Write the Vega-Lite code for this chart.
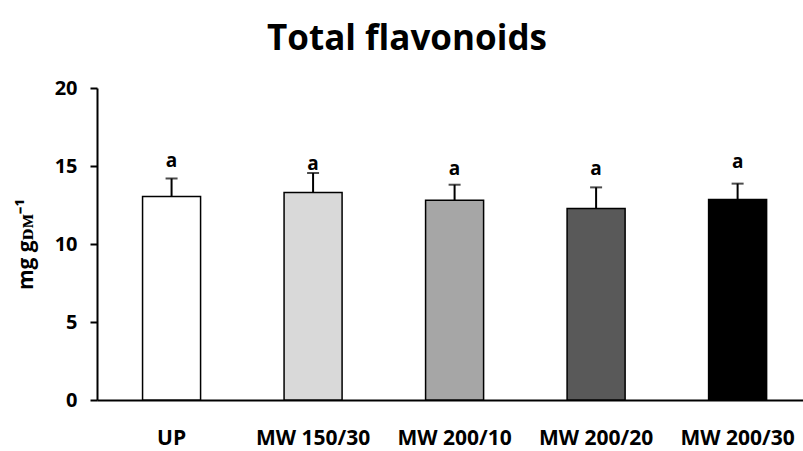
{
  "$schema": "https://vega.github.io/schema/vega-lite/v6.json",
  "width": 706,
  "height": 312,
  "autosize": {"type": "none"},
  "padding": {"left": 97, "top": 88, "right": 0, "bottom": 51},
  "background": "white",
  "title": {
    "text": "Total flavonoids",
    "font": "Open Sans",
    "fontSize": 35,
    "fontWeight": "bold",
    "color": "black",
    "anchor": "middle",
    "frame": "group",
    "dx": -43,
    "baseline": "alphabetic",
    "offset": -7
  },
  "config": {
    "view": {"stroke": null},
    "font": "Open Sans"
  },
  "data": {
    "values": [
      {"group": "UP", "mean": 13.05, "upper": 14.2, "letter": "a", "ly": 15.34},
      {"group": "MW 150/30", "mean": 13.3, "upper": 14.55, "letter": "a", "ly": 15.14},
      {"group": "MW 200/10", "mean": 12.8, "upper": 13.8, "letter": "a", "ly": 14.82},
      {"group": "MW 200/20", "mean": 12.27, "upper": 13.63, "letter": "a", "ly": 14.82},
      {"group": "MW 200/30", "mean": 12.86, "upper": 13.87, "letter": "a", "ly": 15.23}
    ]
  },
  "encoding": {
    "x": {
      "field": "group",
      "type": "nominal",
      "sort": null,
      "scale": {"paddingInner": 0.59, "paddingOuter": 0.2895, "align": 0.556},
      "axis": {
        "title": null,
        "labelAngle": 0,
        "labelFont": "Open Sans",
        "labelFontSize": 21,
        "labelFontWeight": "bold",
        "labelColor": "black",
        "labelPadding": 27,
        "ticks": false,
        "domainColor": "black",
        "domainWidth": 2,
        "grid": false
      }
    }
  },
  "layer": [
    {
      "mark": {"type": "bar", "stroke": "black", "strokeWidth": 1.5},
      "encoding": {
        "y": {
          "field": "mean",
          "type": "quantitative",
          "scale": {"domain": [0, 20], "nice": false},
          "axis": {
            "values": [0, 5, 10, 15, 20],
            "title": "mg gᴅᴍ⁻¹",
            "titleFont": "Open Sans",
            "titleFontSize": 21,
            "titleFontWeight": "bold",
            "titleColor": "black",
            "titlePadding": 18,
            "labelFont": "Open Sans",
            "labelFontSize": 20,
            "labelFontWeight": "bold",
            "labelColor": "black",
            "labelPadding": 13,
            "tickSize": 7,
            "tickWidth": 2,
            "tickColor": "black",
            "domainColor": "black",
            "domainWidth": 2,
            "grid": false
          }
        },
        "fill": {
          "field": "group",
          "type": "nominal",
          "scale": {
            "domain": ["UP", "MW 150/30", "MW 200/10", "MW 200/20", "MW 200/30"],
            "range": ["#ffffff", "#d9d9d9", "#a6a6a6", "#595959", "#000000"]
          },
          "legend": null
        }
      }
    },
    {
      "mark": {"type": "rule", "color": "black", "strokeWidth": 2},
      "encoding": {
        "y": {"field": "mean", "type": "quantitative"},
        "y2": {"field": "upper"}
      }
    },
    {
      "mark": {"type": "tick", "color": "black", "size": 12, "thickness": 2},
      "encoding": {
        "y": {"field": "upper", "type": "quantitative"}
      }
    },
    {
      "mark": {"type": "text", "font": "Open Sans", "fontSize": 19, "fontWeight": "bold", "color": "black", "baseline": "middle"},
      "encoding": {
        "y": {"field": "ly", "type": "quantitative"},
        "text": {"field": "letter"}
      }
    }
  ]
}
